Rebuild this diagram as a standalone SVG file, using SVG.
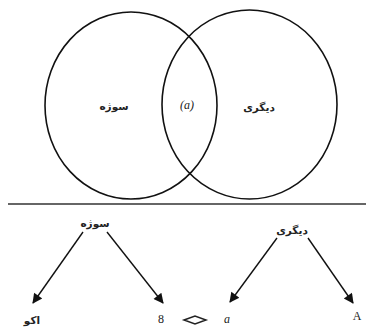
<svg xmlns="http://www.w3.org/2000/svg" width="366" height="327" viewBox="0 0 366 327">
<style>
.c{fill:none;stroke:#111;stroke-width:1.6}
.fa{font-family:"DejaVu Sans",sans-serif;font-size:10.5px;font-weight:bold;fill:#222;text-anchor:middle}
.lt{font-family:"Liberation Serif",serif;font-size:12px;fill:#222;text-anchor:middle}
.ar{stroke:#111;stroke-width:1.4;fill:none;marker-end:url(#ah)}
</style>
<defs>
<marker id="ah" viewBox="0 0 10 10" refX="9" refY="5" markerWidth="13" markerHeight="10" markerUnits="userSpaceOnUse" orient="auto">
<path d="M0,0 L10,5 L0,10 z" fill="#111"/>
</marker>
</defs>
<rect width="366" height="327" fill="#fff"/>
<g id="subject-circle">
<ellipse class="c" cx="131" cy="105.5" rx="86" ry="93.5"/>
<text class="fa" x="114" y="110">سوژه</text>
</g>
<g id="other-circle">
<ellipse class="c" cx="249.5" cy="104.5" rx="87.5" ry="94.5"/>
<text class="fa" x="259" y="111">دیگری</text>
</g>
<g id="intersection">
<text class="lt" x="187" y="109" font-style="italic" font-size="10.5">(a)</text>
</g>
<g id="divider">
<line x1="8" y1="204" x2="366" y2="204" stroke="#666" stroke-width="2"/>
</g>
<g id="subject-node">
<text class="fa" x="95" y="227">سوژه</text>
</g>
<g id="other-node">
<text class="fa" x="292" y="234">دیگری</text>
</g>
<g id="ego-node">
<text class="fa" x="32" y="324">اکو</text>
</g>
<g id="s-node">
<text class="lt" x="161" y="323">8</text>
</g>
<g id="lozenge">
<path d="M184,320 L195,316 L206,320 L195,324 Z" fill="none" stroke="#222" stroke-width="1.5"/>
</g>
<g id="a-node">
<text class="lt" x="227" y="323" font-style="italic">a</text>
</g>
<g id="A-node">
<text class="lt" x="357" y="320">A</text>
</g>
<g id="connectors">
<line class="ar" x1="83" y1="232" x2="33" y2="303"/>
<line class="ar" x1="107" y1="232" x2="163" y2="303"/>
<line class="ar" x1="277" y1="238" x2="230" y2="302"/>
<line class="ar" x1="308" y1="238" x2="353" y2="303"/>
</g>
</svg>
